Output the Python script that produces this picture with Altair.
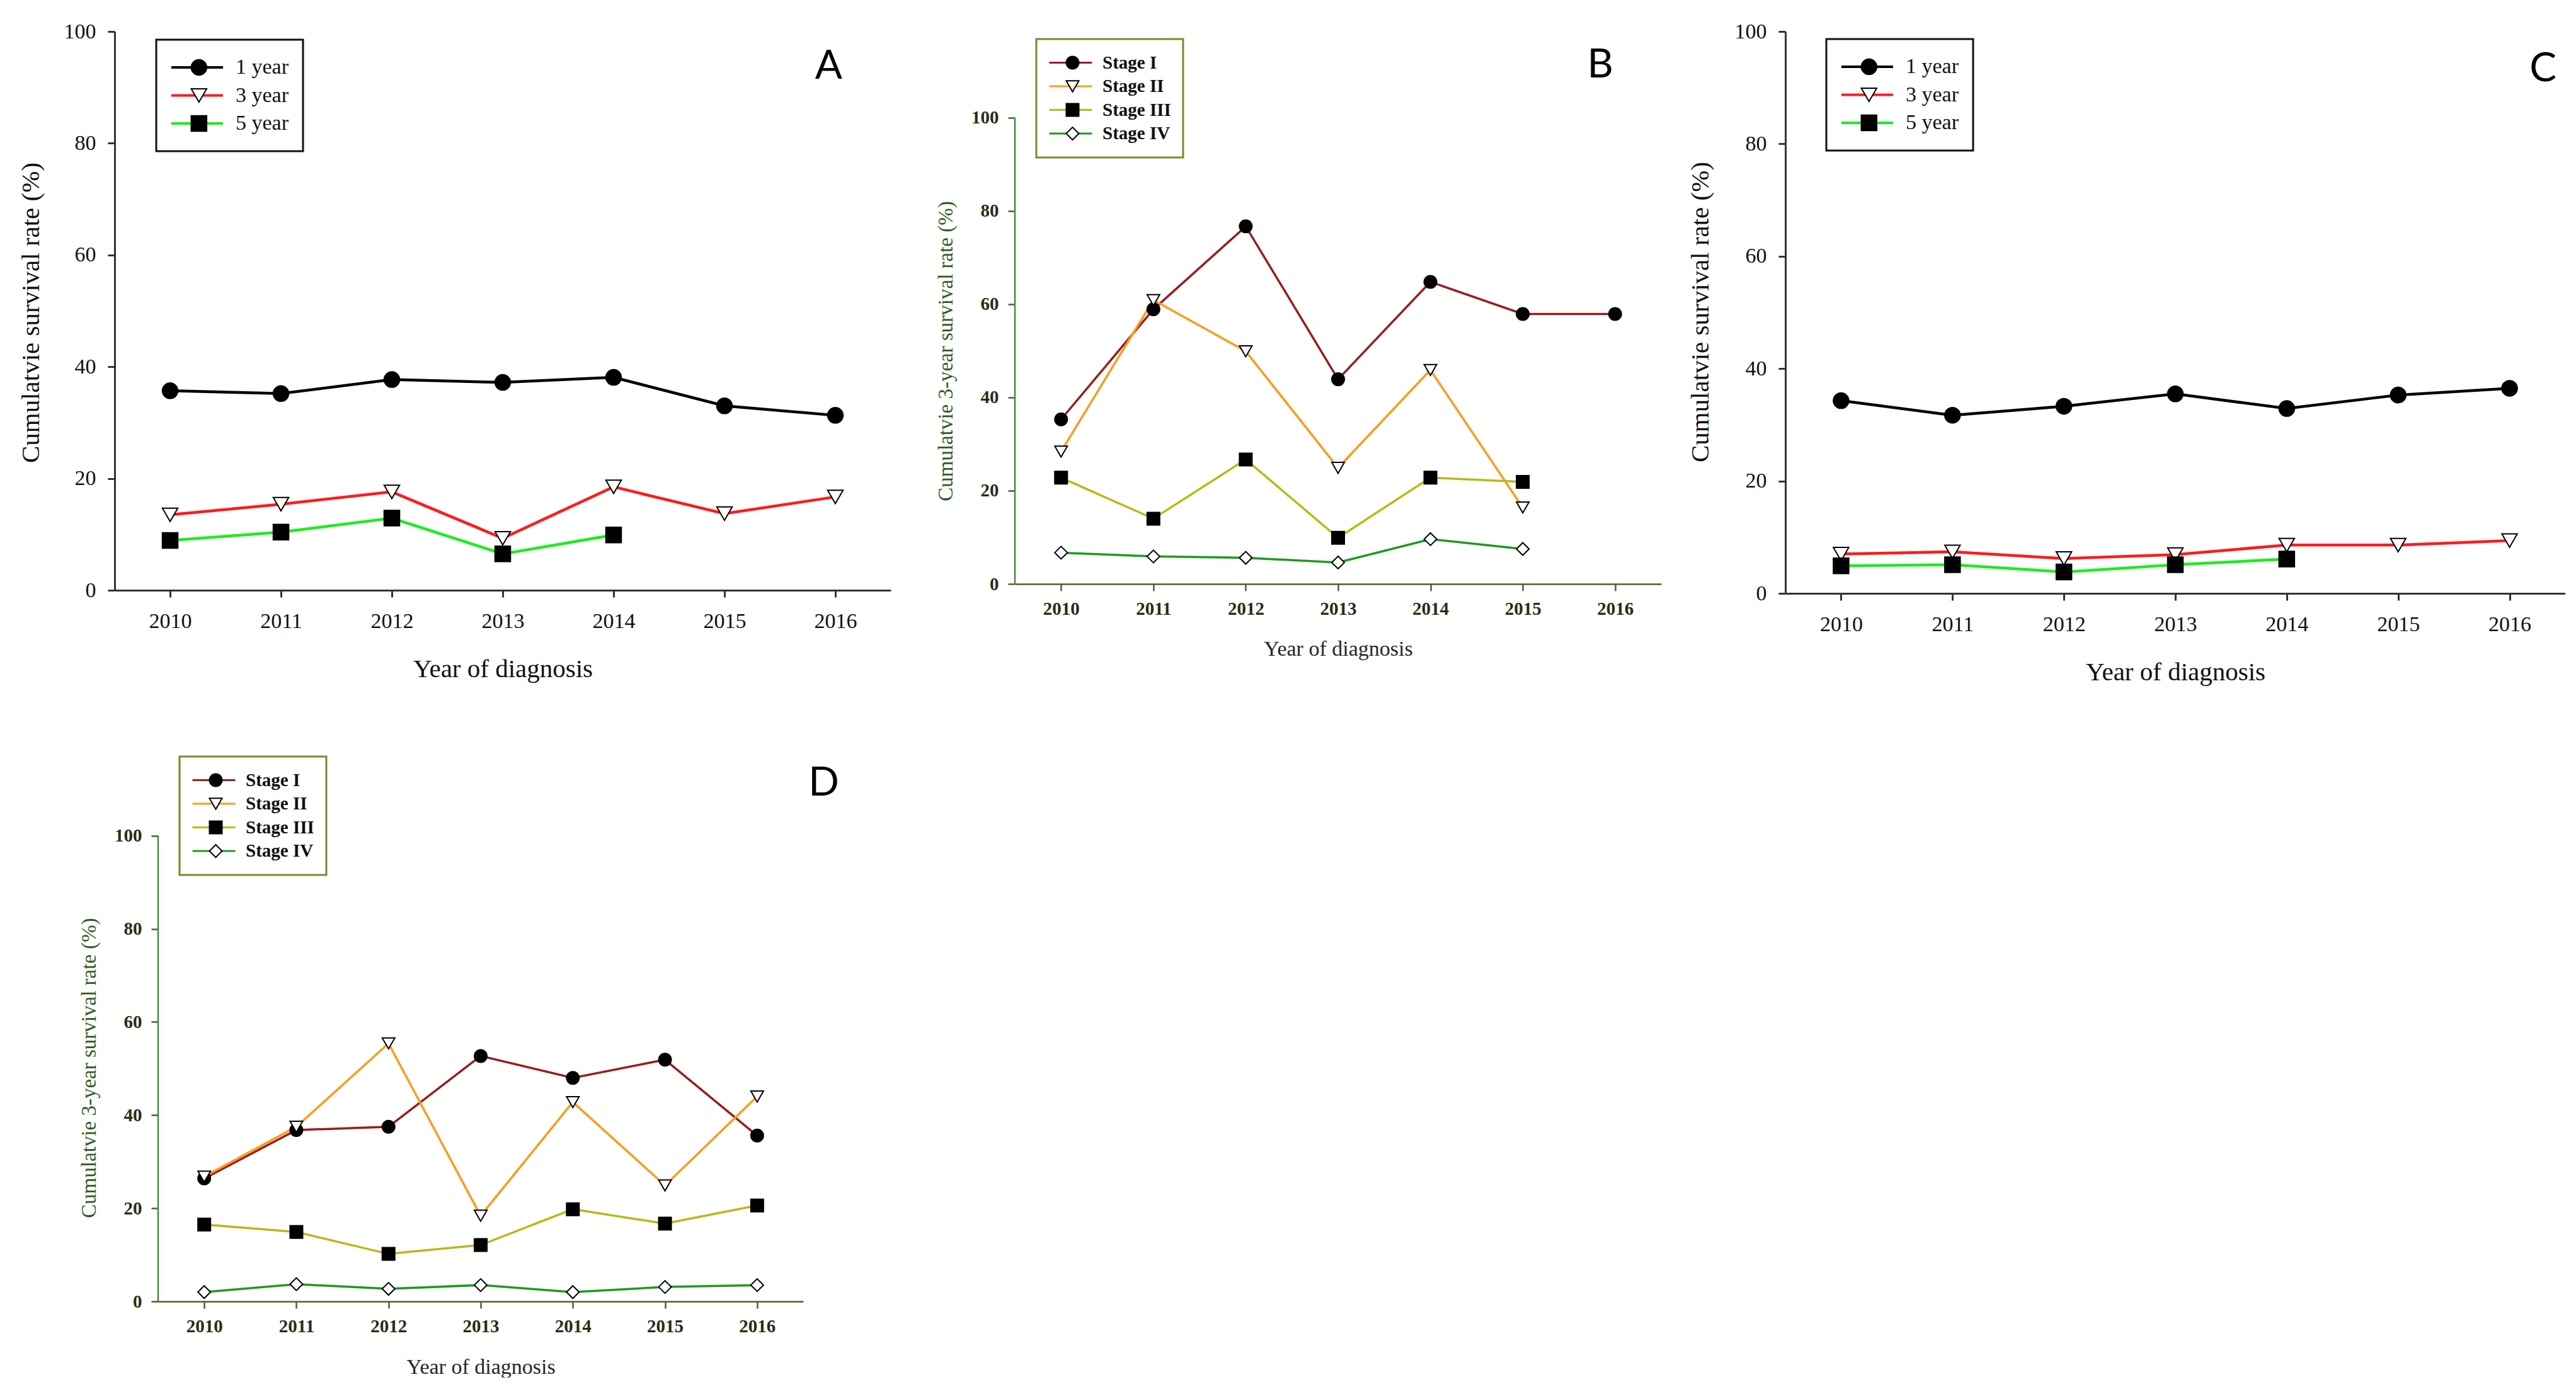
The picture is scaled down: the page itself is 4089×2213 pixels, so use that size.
import altair as alt
import pandas as pd

SERIF = "Liberation Serif"

years = [2010, 2011, 2012, 2013, 2014, 2015, 2016]
y_ticks = [0, 20, 40, 60, 80, 100]

# Panel A
a_names = ["1 year", "3 year", "5 year"]
a_1yr = [35.7, 35.2, 37.7, 37.2, 38.1, 33.0, 31.3]
a_3yr = [13.5, 15.4, 17.6, 9.3, 18.5, 13.7, 16.7]
a_5yr = [8.9, 10.4, 12.9, 6.5, 9.9]

# Panel B
b_names = ["Stage I", "Stage II", "Stage III", "Stage IV"]
b_stage1 = [35.3, 58.9, 76.7, 43.9, 64.8, 57.9, 57.9]
b_stage2 = [28.4, 60.9, 49.9, 24.9, 45.9, 16.4]
b_stage3 = [22.8, 14.0, 26.7, 9.9, 22.8, 21.9]
b_stage4 = [6.7, 5.9, 5.6, 4.6, 9.6, 7.5]

# Panel C
c_1yr = [34.3, 31.7, 33.3, 35.5, 32.9, 35.3, 36.5]
c_3yr = [7.0, 7.4, 6.2, 6.9, 8.6, 8.6, 9.4]
c_5yr = [4.9, 5.1, 3.8, 5.1, 6.1]

# Panel D
d_stage1 = [26.4, 36.8, 37.5, 52.7, 48.0, 51.9, 35.6]
d_stage2 = [26.8, 37.5, 55.4, 18.4, 42.8, 24.9, 44.0]
d_stage3 = [16.5, 14.9, 10.2, 12.1, 19.8, 16.7, 20.6]
d_stage4 = [2.0, 3.7, 2.7, 3.5, 2.0, 3.1, 3.5]

yr_colors = ["#000000", "#ff1a1a", "#1aee1a"]
yr_shapes = ["circle", "triangle-down", "square"]
yr_fills = ["#000000", "#ffffff", "#000000"]

st_colors = ["#9b1c1c", "#ff9a1a", "#b9b915", "#1e9a1e"]
st_shapes = ["circle", "triangle-down", "square", "diamond"]
st_fills = ["#000000", "#ffffff", "#000000", "#ffffff"]

y_title_a = "Cumulatvie survival rate (%)"
y_title_b = "Cumulatvie 3-year survival rate (%)"
x_title = "Year of diagnosis"

SYM_TAG = " (marker)"


def long(names, series):
    rows = []
    for name, vals in zip(names, series):
        for yr, v in zip(years, vals):
            rows.append({"year": yr, "value": v, "series": name, "sym": name + SYM_TAG})
    return pd.DataFrame(rows)


STYLE_A = dict(lw=4.5, ms=600, msw=2, xdom="#333333", ydom="#333333", tickc="#333333",
               domw=3, tickw=3, ticksize=11, lfs=34, ytfs=41, xtfs=41, lfw="normal",
               labelc="#111111", ytitlec="#111111", xtitlec="#111111",
               xlp=21, ylp=19, legfs=34, legseg=82, legoff=18, legpad=22,
               clip=44, rowpad=0.5, legstroke="#111111", legsymoff=28.8,
               ytitle=y_title_a, rule=False)
STYLE_B = dict(lw=3.5, ms=400, msw=2, xdom="#5a5a28", ydom="#3b8f3b", tickc="#5a5a28",
               domw=2.5, tickw=2.5, ticksize=11, lfs=29, ytfs=33, xtfs=34, lfw="bold",
               labelc="#2a2d14", ytitlec="#2e5b1e", xtitlec="#262626",
               xlp=14, ylp=15, legfs=29, legseg=68, legoff=15, legpad=19,
               clip=37, rowpad=0.5, legstroke="#7a8a2a", legsymoff=24,
               ytitle=y_title_b, rule=True)

IND = dict(color="independent", shape="independent", fill="independent",
           stroke="independent")


def panel(df, names, colors, shapes, fills, s, width, height, ymax, legx, legy,
          letter, ldx, ldy, ytx, yty, xty):
    sym_names = [n + SYM_TAG for n in names]
    xscale = alt.Scale(domain=[2009.5, 2016.5], nice=False, zero=False)
    yscale = alt.Scale(domain=[0, ymax], nice=False, zero=False)
    xaxis = alt.Axis(values=years, format="d", title=x_title, grid=False,
                     domainColor=s["xdom"], domainWidth=s["domw"],
                     tickColor=s["tickc"], tickWidth=s["tickw"], tickSize=s["ticksize"],
                     labelFont=SERIF, labelFontSize=s["lfs"], labelColor=s["labelc"],
                     labelFontWeight=s["lfw"],
                     labelPadding=s["xlp"], labelFlush=False, labelOverlap=False,
                     titleFont=SERIF, titleFontSize=s["xtfs"], titleFontWeight="normal",
                     titleColor=s["xtitlec"], titleX=width / 2, titleY=xty,
                     titleBaseline="middle")
    yaxis = alt.Axis(values=y_ticks, title=s["ytitle"], grid=False,
                     domain=not s["rule"], domainColor=s["ydom"], domainWidth=s["domw"],
                     tickColor=s["tickc"], tickWidth=s["tickw"], tickSize=s["ticksize"],
                     labelFont=SERIF, labelFontSize=s["lfs"], labelColor=s["labelc"],
                     labelFontWeight=s["lfw"],
                     labelPadding=s["ylp"], labelFlush=False, labelOverlap=False,
                     titleFont=SERIF, titleFontSize=s["ytfs"], titleFontWeight="normal",
                     titleColor=s["ytitlec"], titleX=ytx, titleY=yty,
                     titleBaseline="middle")
    base = alt.Chart(df)
    line_leg = alt.Legend(orient="none", legendX=legx, legendY=legy, direction="vertical",
                          symbolType="stroke", symbolSize=s["legseg"] ** 2,
                          symbolStrokeWidth=s["lw"] - 0.5, symbolOpacity=1,
                          labelFont=SERIF, labelFontSize=s["legfs"], labelColor="#111111",
                          labelFontWeight=s["lfw"],
                          labelOffset=s["legoff"], labelLimit=0, padding=s["legpad"],
                          clipHeight=s["clip"], rowPadding=s["rowpad"],
                          strokeColor=s["legstroke"])
    sym_leg = alt.Legend(orient="none", legendX=legx, legendY=legy, direction="vertical",
                         symbolSize=s["ms"], symbolStrokeWidth=s["msw"],
                         symbolOpacity=1, symbolOffset=s["legsymoff"],
                         labelExpr="''", labelFont=SERIF, labelFontSize=s["legfs"],
                         labelLimit=0, padding=s["legpad"],
                         clipHeight=s["clip"], rowPadding=s["rowpad"])
    lines = base.mark_line(strokeWidth=s["lw"]).encode(
        x=alt.X("year:Q", scale=xscale, axis=xaxis),
        y=alt.Y("value:Q", scale=yscale, axis=yaxis),
        color=alt.Color("series:N", scale=alt.Scale(domain=names, range=colors),
                        title=None, legend=line_leg),
    )
    pts = base.mark_point(filled=True, opacity=1, size=s["ms"], strokeWidth=s["msw"]).encode(
        x="year:Q",
        y="value:Q",
        shape=alt.Shape("sym:N", scale=alt.Scale(domain=sym_names, range=shapes),
                        title=None, legend=sym_leg),
        fill=alt.Fill("sym:N", scale=alt.Scale(domain=sym_names, range=fills),
                      title=None, legend=sym_leg),
        stroke=alt.Stroke("sym:N", scale=alt.Scale(domain=sym_names,
                                                   range=["#000000"] * len(names)),
                          title=None, legend=sym_leg),
    )
    layers = [lines, pts]
    if s["rule"]:
        axis_line = alt.Chart(pd.DataFrame({"value": [0], "value_hi": [100]})).mark_rule(
            color=s["ydom"], strokeWidth=s["domw"]).encode(
            x=alt.value(0), y="value:Q", y2="value_hi:Q")
        layers = [axis_line] + layers
    return alt.layer(*layers).properties(
        width=width, height=height,
        title=alt.TitleParams(text=letter, anchor="end", frame="group", orient="top",
                              offset=0, dx=ldx, dy=ldy, baseline="top", font="Lato",
                              fontSize=64, fontWeight="normal", color="#000000"),
    )


A = panel(long(a_names, [a_1yr, a_3yr, a_5yr]), a_names, yr_colors, yr_shapes, yr_fills,
          STYLE_A, 1232, 887, 100, 66, 13, "A", -77, 105, -133, 446, 125)
B = panel(long(b_names, [b_stage1, b_stage2, b_stage3, b_stage4]), b_names, st_colors,
          st_shapes, st_fills, STYLE_B, 1026, 877, 118.5, 34, 12, "B", -76, 86, -110, 507, 103)
C = panel(long(a_names, [c_1yr, c_3yr, c_5yr]), a_names, yr_colors, yr_shapes, yr_fills,
          STYLE_A, 1238, 892, 100, 65, 12, "C", -14, 109, -135, 445, 125)
D = panel(long(b_names, [d_stage1, d_stage2, d_stage3, d_stage4]), b_names, st_colors,
          st_shapes, st_fills, STYLE_B, 1024, 876, 118.5, 34, 11, "D", 57, 86, -110, 505, 104)

spacer = alt.Chart(pd.DataFrame({"v": pd.Series([], dtype=float)})).mark_point().properties(
    width=1, height=1)

row1 = alt.hconcat(A, B, C, spacing=197, bounds="flush").resolve_scale(**IND).resolve_legend(**IND)
row2 = alt.hconcat(spacer, D, spacing=68, bounds="flush").resolve_scale(**IND).resolve_legend(**IND)

chart = alt.vconcat(row1, row2, spacing=103).resolve_scale(**IND).resolve_legend(**IND).properties(
    padding={"left": 20, "top": 25, "right": 0, "bottom": 0},
    background="#ffffff",
).configure_view(strokeWidth=0).configure_legend(strokeWidth=3)

chart.save("out.html", embed_options={"renderer": "svg", "actions": False})
